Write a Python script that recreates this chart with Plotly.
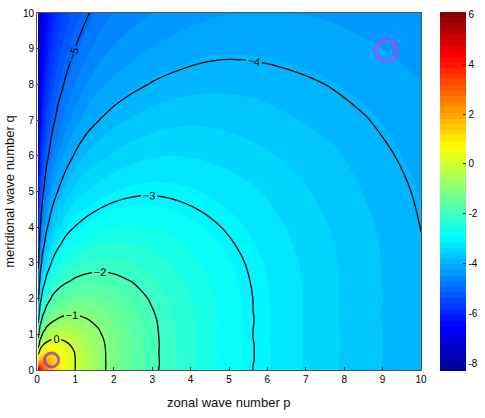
import plotly.graph_objects as go

# zonal wave number p (grid columns) and meridional wave number q (grid rows)
p_vals = [0.03, 0.08, 0.15, 0.25, 0.4, 0.55, 0.75, 1.0, 1.3, 1.65, 2.0,
          2.5, 3.0, 3.5, 4.25, 5.0, 5.75, 6.5, 7.5, 8.5, 10.0]
q_vals = [0, 0.15, 0.3, 0.5, 0.7, 0.9, 1.15, 1.4, 1.7, 2.0, 2.5, 3.0, 3.5,
          4.0, 5.0, 6.0, 7.0, 8.0, 9.0, 10.0]

# field values (x100), one row per q value
z_rows_x100 = [
    [609, 439, 330, 241, 159, 104, 50, -1, -46, -87, -120, -159, -191, -218, -251, -280, -304, -325, -350, -372, -399],
    [260, 304, 286, 231, 158, 104, 50, -1, -45, -86, -120, -159, -190, -217, -251, -279, -304, -325, -350, -372, -399],
    [83, 155, 183, 177, 139, 97, 49, -1, -45, -87, -120, -159, -190, -217, -251, -279, -303, -325, -350, -371, -399],
    [-49, 33, 72, 94, 90, 70, 36, -4, -47, -87, -120, -159, -191, -217, -251, -279, -303, -325, -349, -371, -399],
    [-137, -53, -3, 23, 38, 32, 13, -16, -52, -89, -121, -159, -190, -217, -251, -279, -303, -325, -349, -371, -399],
    [-202, -118, -66, -34, -11, -6, -14, -33, -61, -94, -123, -160, -191, -217, -251, -280, -304, -325, -349, -371, -399],
    [-266, -181, -128, -89, -65, -52, -49, -59, -77, -103, -129, -162, -192, -218, -251, -279, -304, -325, -350, -371, -399],
    [-317, -232, -179, -137, -109, -93, -84, -85, -97, -115, -137, -167, -194, -219, -251, -279, -303, -325, -350, -372, -399],
    [-368, -283, -229, -186, -153, -136, -122, -116, -121, -133, -149, -174, -199, -221, -253, -280, -304, -325, -350, -372, -399],
    [-410, -325, -271, -228, -190, -173, -157, -147, -146, -153, -164, -183, -205, -226, -254, -281, -304, -325, -350, -371, -399],
    [-468, -383, -329, -285, -247, -223, -207, -193, -185, -184, -190, -202, -218, -235, -260, -284, -306, -326, -350, -372, -399],
    [-516, -431, -376, -333, -293, -267, -248, -233, -222, -216, -216, -223, -234, -247, -268, -289, -309, -328, -351, -372, -399],
    [-556, -471, -416, -373, -333, -307, -283, -268, -255, -245, -242, -244, -252, -261, -277, -296, -314, -332, -353, -373, -399],
    [-591, -506, -451, -407, -367, -341, -316, -298, -285, -274, -267, -266, -269, -276, -289, -304, -320, -336, -356, -375, -400.4],
    [-649, -564, -509, -465, -425, -398, -372, -349, -335, -323, -314, -306, -304, -306, -313, -323, -334, -347, -364, -381, -404],
    [-696, -611, -557, -513, -472, -445, -419, -395, -376, -364, -354, -344, -338, -335, -338, -344, -352, -361, -374, -388, -410],
    [-737, -651, -597, -553, -512, -485, -459, -435, -414, -399, -388, -377, -369, -364, -362, -365, -370, -377, -387, -398, -416],
    [-771, -686, -632, -587, -547, -519, -493, -469, -447, -429, -419, -407, -398, -392, -387, -386, -388, -393, -400, -409, -424],
    [-802, -717, -662, -618, -577, -550, -523, -499, -477, -458, -445, -434, -424, -417, -409, -406, -407, -409, -414, -421, -433],
    [-830, -744, -690, -645, -605, -577, -551, -526, -504, -485, -470, -457, -448, -440, -431, -426, -424, -425, -428, -434, -443],
]
z_grid = [[v / 100.0 for v in row] for row in z_rows_x100]

# colour range and labelled contour levels
z_min, z_max = -8.30, 6.09
line_levels = [-5, 0, 1]          # start, end, step
colorbar_ticks = [6, 4, 2, 0, -2, -4, -6, -8]

# highlighted points (magenta rings)
ring_p = [0.38, 9.09]
ring_q = [0.28, 8.94]
ring_size = [14, 21]
ring_color = ["#8a2fd6", "#d23ce6"]

jet = [
    [0.0, "rgb(0,0,143)"],
    [0.125, "rgb(0,0,255)"],
    [0.375, "rgb(0,255,255)"],
    [0.625, "rgb(255,255,0)"],
    [0.875, "rgb(255,0,0)"],
    [1.0, "rgb(128,0,0)"],
]

n_colors = 64
step = (z_max - z_min) / n_colors

fig = go.Figure()
fig.add_trace(go.Contour(
    x=p_vals, y=q_vals, z=z_grid,
    colorscale=jet, zmin=z_min, zmax=z_max,
    contours=dict(coloring="fill", start=z_min, end=z_max, size=step, showlines=False),
    line=dict(width=0, smoothing=0.9),
    colorbar=dict(
        x=1.0495, xanchor="left", y=0.5, yanchor="middle", xpad=0, ypad=0,
        thickness=26, thicknessmode="pixels", len=1.006, lenmode="fraction",
        tickvals=colorbar_ticks, ticktext=[str(t) for t in colorbar_ticks],
        ticks="inside", ticklen=3, tickcolor="#333",
        tickfont=dict(family="Liberation Sans", size=10, color="black"),
        outlinewidth=0,
    ),
    hoverinfo="skip",
))
fig.add_trace(go.Contour(
    x=p_vals, y=q_vals, z=z_grid,
    showscale=False,
    contours=dict(coloring="none", start=line_levels[0], end=line_levels[1],
                  size=line_levels[2], showlabels=True,
                  labelfont=dict(family="Liberation Sans", size=11, color="black")),
    line=dict(color="black", width=1.3, smoothing=0.9),
    hoverinfo="skip",
))
fig.add_trace(go.Scatter(
    x=ring_p, y=ring_q, mode="markers",
    marker=dict(symbol="circle-open", size=ring_size, color=ring_color,
                line=dict(width=3, color=ring_color)),
    showlegend=False, hoverinfo="skip",
))

axis_common = dict(
    range=[0, 10], tickmode="linear", tick0=0, dtick=1,
    ticks="inside", ticklen=3, tickcolor="#333",
    showline=True, linecolor="#555", linewidth=1, mirror=True,
    showgrid=False, zeroline=False,
    tickfont=dict(family="Liberation Sans", size=10, color="black"),
)
fig.update_xaxes(**axis_common)
fig.update_yaxes(**axis_common)

fig.update_layout(
    width=485, height=418,
    margin=dict(l=37, r=64, t=13, b=48, autoexpand=False),
    paper_bgcolor="white", plot_bgcolor="white",
    showlegend=False,
    annotations=[
        dict(text="zonal wave number p", xref="paper", yref="paper",
             x=0.5, y=-0.092, xanchor="center", yanchor="middle", showarrow=False,
             font=dict(family="Liberation Sans", size=13, color="#111")),
        dict(text="meridional wave number q", xref="paper", yref="paper",
             x=-0.072, y=0.5, xanchor="center", yanchor="middle", showarrow=False,
             textangle=-90, font=dict(family="Liberation Sans", size=13, color="#111")),
    ],
)
fig.write_html("out.html")
